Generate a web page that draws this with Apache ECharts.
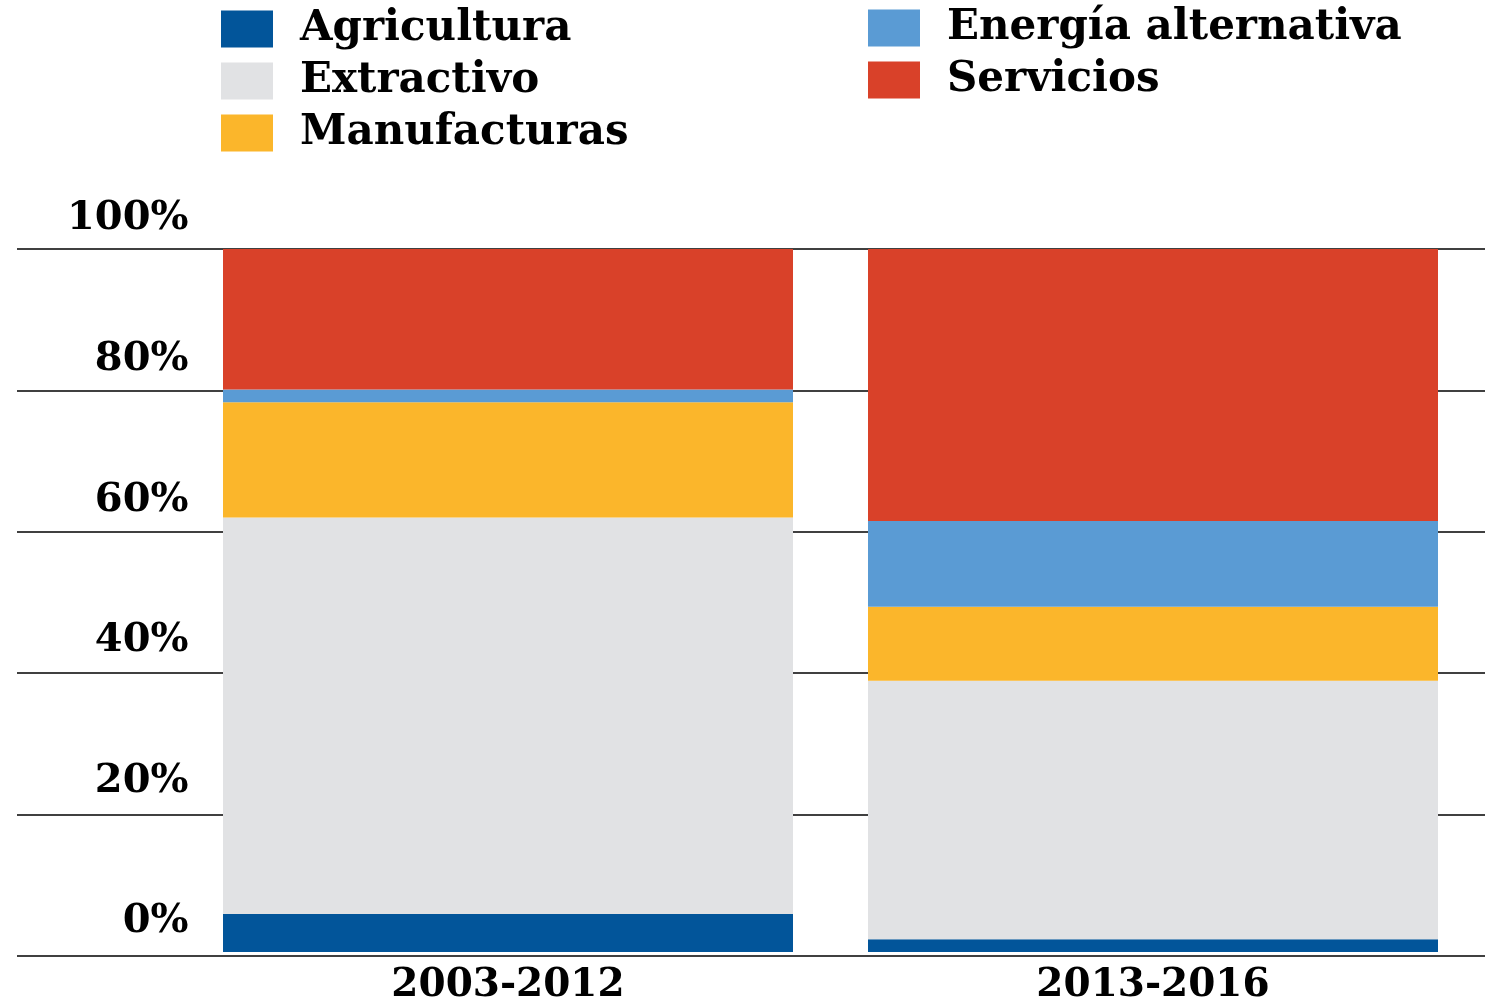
<!DOCTYPE html>
<html>
<head>
<meta charset="utf-8">
<script src="https://cdn.jsdelivr.net/npm/echarts@6/dist/echarts.min.js"></script>
<style>
html,body{margin:0;padding:0;background:#fff;}
#chart{width:1485px;height:1005px;}
</style>
</head>
<body>
<div id="chart"></div>
<script>
const categories = ['2003-2012', '2013-2016'];
const agricultura = [5.4, 1.8];
const extractivo = [56.4, 36.8];
const manufacturas = [16.4, 10.5];
const energiaAlternativa = [1.8, 12.2];
const servicios = [20.0, 38.7];
const yTicks = [0, 20, 40, 60, 80, 100];

const FONT = 'DejaVu Serif';
const chart = echarts.init(document.getElementById('chart'));

function barSeries(name, data, color) {
  return {
    name: name, type: 'bar', stack: 'total', data: data,
    xAxisIndex: 1, yAxisIndex: 1, barWidth: 570,
    itemStyle: { color: color }, emphasis: { disabled: true }
  };
}

const legendText = { fontFamily: FONT, fontWeight: 'bold', fontSize: 42, color: '#000', padding: [0, 0, 0, 22] };

chart.setOption({
  animation: false,
  backgroundColor: '#fff',
  legend: [
    { data: ['Agricultura', 'Extractivo', 'Manufacturas'], orient: 'vertical', left: 216, top: 3,
      itemWidth: 52, itemHeight: 37, itemGap: 10, icon: 'rect', textStyle: legendText, selectedMode: false },
    { data: ['Energía alternativa', 'Servicios'], orient: 'vertical', left: 863, top: 2,
      itemWidth: 52, itemHeight: 37, itemGap: 10, icon: 'rect', textStyle: legendText, selectedMode: false }
  ],
  grid: [
    { left: 17, right: 0, top: 249, bottom: 49 },
    { left: 185.5, right: 9.5, top: 249, bottom: 49 }
  ],
  xAxis: [
    { gridIndex: 0, type: 'value', show: false, min: 0, max: 1 },
    { gridIndex: 1, type: 'category', data: categories,
      axisLine: { show: false }, axisTick: { show: false },
      axisLabel: { fontFamily: FONT, fontWeight: 'bold', fontSize: 39, color: '#000', margin: 14 } }
  ],
  yAxis: [
    { gridIndex: 0, type: 'value', min: yTicks[0], max: yTicks[yTicks.length - 1], interval: 20,
      axisLine: { show: false }, axisTick: { show: false }, axisLabel: { show: false },
      splitLine: { show: true, lineStyle: { color: '#404040', width: 2 } } },
    { gridIndex: 1, type: 'value', min: yTicks[0], max: yTicks[yTicks.length - 1], interval: 20,
      axisLine: { show: false }, axisTick: { show: false }, splitLine: { show: false },
      axisLabel: { formatter: '{value}%', fontFamily: FONT, fontWeight: 'bold', fontSize: 40, color: '#000',
        margin: -3, verticalAlign: 'bottom', padding: [0, 0, 10, 0] } }
  ],
  series: [
    barSeries('Agricultura', agricultura, '#02559A'),
    barSeries('Extractivo', extractivo, '#E1E2E4'),
    barSeries('Manufacturas', manufacturas, '#FBB62B'),
    barSeries('Energía alternativa', energiaAlternativa, '#5A9BD4'),
    barSeries('Servicios', servicios, '#D94129')
  ]
});
</script>
</body>
</html>
